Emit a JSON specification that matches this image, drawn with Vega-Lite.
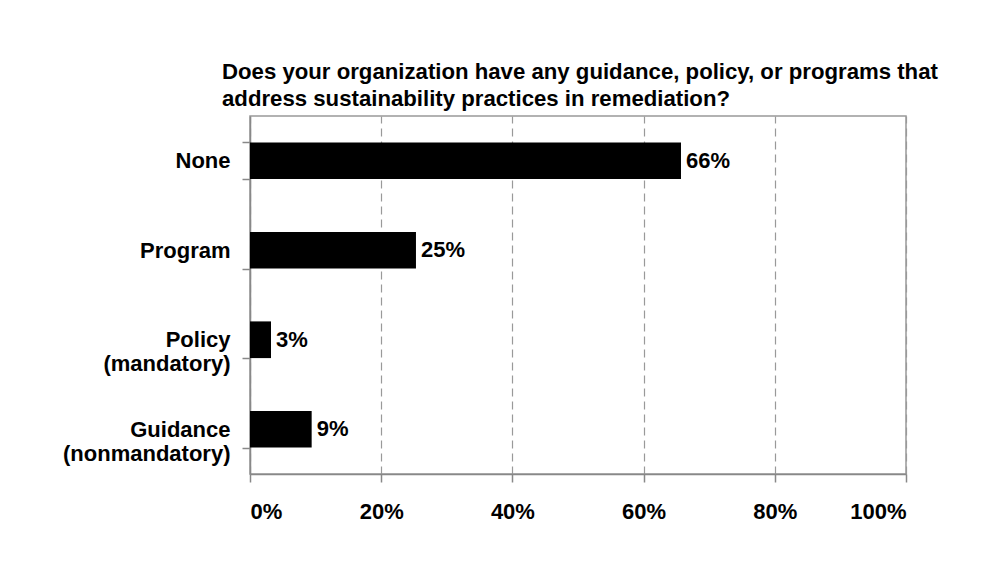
{
  "$schema": "https://vega.github.io/schema/vega-lite/v6.json",
  "autosize": "none",
  "width": 656,
  "height": 358,
  "padding": {"left": 250, "top": 116, "right": 86, "bottom": 90},
  "background": "white",
  "title": {
    "text": ["Does your organization have any guidance, policy, or programs that", "address sustainability practices in remediation?"],
    "anchor": "start",
    "frame": "group",
    "dx": -28,
    "dy": 13,
    "offset": 8,
    "font": "Liberation Sans",
    "fontSize": 22.2,
    "fontWeight": "bold",
    "color": "black",
    "lineHeight": 27
  },
  "data": {
    "values": [
      {"category": "None", "value": 0.657, "label": "66%"},
      {"category": "Program", "value": 0.253, "label": "25%"},
      {"category": "Policy|(mandatory)", "value": 0.032, "label": "3%"},
      {"category": "Guidance|(nonmandatory)", "value": 0.094, "label": "9%"}
    ]
  },
  "encoding": {
    "y": {
      "field": "category",
      "type": "nominal",
      "sort": null,
      "title": null,
      "scale": {"paddingInner": 0.59, "paddingOuter": 0.295},
      "axis": {
        "labelExpr": "split(datum.label, '|')",
        "labelFont": "Liberation Sans",
        "labelFontSize": 22,
        "labelFontWeight": "bold",
        "labelColor": "black",
        "labelPadding": 12,
        "labelLineHeight": 24,
        "tickBand": "extent",
        "tickSize": 8,
        "tickColor": "#888",
        "domainColor": "#888",
        "domainWidth": 1.5,
        "tickWidth": 1.5
      }
    },
    "x": {
      "field": "value",
      "type": "quantitative",
      "title": null,
      "scale": {"domain": [0, 1]},
      "axis": {
        "values": [0, 0.2, 0.4, 0.6, 0.8, 1],
        "format": ".0%",
        "labelFont": "Liberation Sans",
        "labelFontSize": 22,
        "labelFontWeight": "bold",
        "labelColor": "black",
        "labelPadding": 19,
        "tickSize": 8,
        "tickColor": "#888",
        "domainColor": "#888",
        "domainWidth": 1.5,
        "tickWidth": 1.5,
        "grid": true,
        "gridColor": "#999",
        "gridDash": [8, 5],
        "gridWidth": 1.2
      }
    }
  },
  "layer": [
    {"mark": {"type": "bar", "color": "black"}},
    {
      "mark": {"type": "text", "align": "left", "baseline": "middle", "dx": 5, "font": "Liberation Sans", "fontSize": 22, "fontWeight": "bold", "color": "black"},
      "encoding": {"text": {"field": "label"}}
    }
  ],
  "config": {
    "view": {"stroke": "#999", "strokeWidth": 1.5}
  }
}
